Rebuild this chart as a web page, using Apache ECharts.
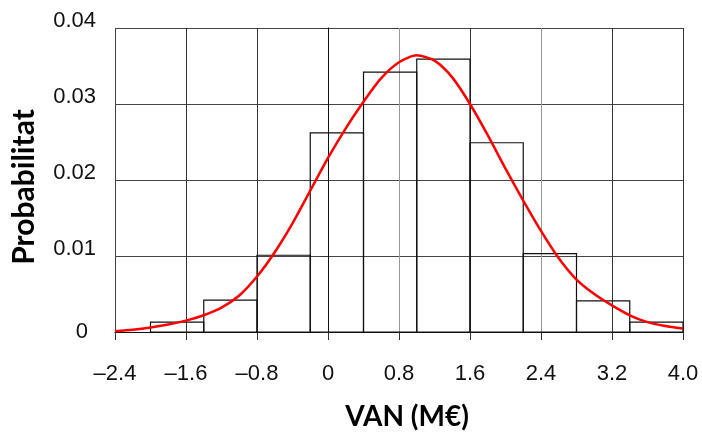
<!DOCTYPE html>
<html>
<head>
<meta charset="utf-8">
<script src="https://cdn.jsdelivr.net/npm/echarts@6/dist/echarts.min.js"></script>
<style>
  html, body { margin: 0; padding: 0; background: #fff; }
  #chart { width: 702px; height: 432px; }
</style>
</head>
<body>
<div id="chart"></div>
<script>
// Histogram bins of the simulated VAN (M€) and their probabilities
const binStart = [-2.0, -1.4, -0.8, -0.2, 0.4, 1.0, 1.6, 2.2, 2.8, 3.4];
const binEnd   = [-1.4, -0.8, -0.2, 0.4, 1.0, 1.6, 2.2, 2.8, 3.4, 4.0];
const binProb  = [0.0013, 0.0042, 0.0101, 0.0262, 0.0342, 0.0359, 0.0249, 0.0103, 0.0041, 0.0013];

// Fitted distribution curve
const curveX = [-2.4, -2.2, -2.0, -1.8, -1.6, -1.4, -1.2, -1.0, -0.8, -0.6, -0.4, -0.2,
                0.0, 0.2, 0.4, 0.6, 0.8, 1.0, 1.2, 1.4, 1.6, 1.8, 2.0, 2.2,
                2.4, 2.6, 2.8, 3.0, 3.2, 3.4, 3.6, 3.8, 4.0];
const curveY = [0.0001, 0.0003, 0.0006, 0.0010, 0.0015, 0.0022, 0.0032, 0.0048, 0.0073, 0.0105, 0.0143, 0.0186,
                0.0229, 0.0268, 0.0303, 0.0334, 0.0355, 0.0364, 0.0357, 0.0335, 0.0300, 0.0259, 0.0215, 0.0173,
                0.0133, 0.0097, 0.0069, 0.0050, 0.0035, 0.0022, 0.0013, 0.0008, 0.00045];

// Axis tick labels
const xTickLabels = ['\u20132.4', '\u20131.6', '\u20130.8', '0', '0.8', '1.6', '2.4', '3.2', '4.0'];
const yTickLabels = ['0', '0.01', '0.02', '0.03', '0.04'];

const X_MIN = -2.4, X_MAX = 4.0, X_STEP = 0.8;
const Y_MIN = 0, Y_MAX = 0.04, Y_STEP = 0.01;

const binData = binStart.map((s, i) => [s, binEnd[i], binProb[i]]);
const curveData = curveX.map((x, i) => [x, curveY[i]]);

const chart = echarts.init(document.getElementById('chart'), null, { renderer: 'canvas' });

const tickFont = { fontFamily: 'Liberation Sans, Arial, sans-serif', fontSize: 22, color: '#111' };
const titleFont = { fontFamily: 'Lato, Carlito, sans-serif', fontWeight: 'bold', color: '#000' };

chart.setOption({
  animation: false,
  backgroundColor: '#fff',
  grid: { left: 115, right: 19, top: 28, bottom: 100, containLabel: false, outerBoundsMode: 'none' },
  xAxis: {
    type: 'value',
    min: X_MIN, max: X_MAX, interval: X_STEP,
    name: 'VAN (M\u20ac)',
    nameLocation: 'middle',
    nameGap: 71,
    nameTextStyle: Object.assign({ fontSize: 28, padding: [0, 0, 0, 16] }, titleFont),
    axisLine: { show: true, onZero: false, lineStyle: { color: '#111', width: 1.2 } },
    axisTick: { show: true, length: 8, lineStyle: { color: '#333' } },
    axisLabel: Object.assign({
      margin: 31,
      formatter: v => xTickLabels[Math.round((v - X_MIN) / X_STEP)]
    }, tickFont),
    splitLine: { show: true, lineStyle: { color: ['#444', '#333', '#333', '#999', '#999', '#333', '#999', '#333', '#333'], width: 1 } }
  },
  yAxis: {
    type: 'value',
    min: Y_MIN, max: Y_MAX, interval: Y_STEP,
    name: 'Probabilitat',
    nameLocation: 'middle',
    nameGap: 76,
    nameRotate: 90,
    nameTextStyle: Object.assign({ fontSize: 30, padding: [0, 14, 0, 0] }, titleFont),
    axisLine: { show: true, lineStyle: { color: '#111', width: 1 } },
    axisTick: { show: true, length: 7, lineStyle: { color: '#333' } },
    axisLabel: Object.assign({
      margin: 19,
      formatter: v => {
        const i = Math.round((v - Y_MIN) / Y_STEP);
        return i === 0 ? '{z|' + yTickLabels[i] + '}' : '{u|' + yTickLabels[i] + '}';
      },
      rich: {
        u: Object.assign({ padding: [0, 0, 14, 0] }, tickFont),
        z: Object.assign({ padding: [0, 8, 0, 0] }, tickFont)
      }
    }, tickFont),
    splitLine: { show: true, lineStyle: { color: '#444', width: 1 } }
  },
  series: [
    {
      name: 'Histograma',
      type: 'custom',
      data: binData,
      encode: { x: [0, 1], y: 2 },
      z: 2,
      renderItem: function (params, api) {
        const p0 = api.coord([api.value(0), api.value(2)]);
        const p1 = api.coord([api.value(1), 0]);
        return {
          type: 'rect',
          shape: { x: p0[0], y: p0[1], width: p1[0] - p0[0], height: p1[1] - p0[1] },
          style: { fill: 'none', stroke: '#111', lineWidth: 1.2 }
        };
      }
    },
    {
      name: 'Corba',
      type: 'line',
      data: curveData,
      smooth: 0.25,
      showSymbol: false,
      z: 3,
      lineStyle: { color: '#ff0000', width: 2.5 }
    }
  ]
});
</script>
</body>
</html>
